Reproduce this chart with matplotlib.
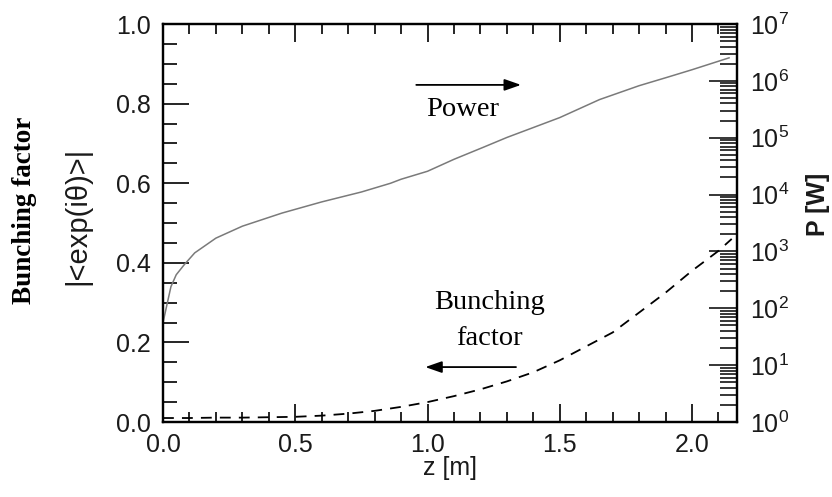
import numpy as np
import matplotlib
matplotlib.use("Agg")
import matplotlib.pyplot as plt
from matplotlib.ticker import MultipleLocator, LogLocator, FixedLocator, NullFormatter

plt.rcParams['mathtext.fontset'] = 'custom'
plt.rcParams['mathtext.rm'] = 'Liberation Sans'
plt.rcParams['mathtext.it'] = 'Liberation Sans:italic'

# ---- data ----
z_power = [0.00, 0.01, 0.02, 0.03, 0.05, 0.08, 0.12, 0.20, 0.30, 0.45, 0.60, 0.75,
           0.86, 0.90, 1.00, 1.10, 1.21, 1.30, 1.40, 1.50, 1.65, 1.80, 1.91, 2.00, 2.14]
power_W = [56, 91, 148, 240, 389, 582, 944, 1714, 2780, 4730, 7430, 11100,
           15800, 18600, 25700, 41700, 67600, 101000, 151000, 226000, 468000,
           822000, 1.17e6, 1.57e6, 2.54e6]

z_bunch = [0.0, 0.1, 0.2, 0.3, 0.4, 0.5, 0.6, 0.7, 0.8, 0.9, 1.0, 1.1, 1.2, 1.3,
           1.4, 1.5, 1.6, 1.7, 1.8, 1.9, 2.0, 2.1, 2.15]
bunching = [0.010, 0.010, 0.011, 0.011, 0.012, 0.013, 0.016, 0.021, 0.028, 0.038,
            0.050, 0.065, 0.082, 0.102, 0.125, 0.155, 0.190, 0.225, 0.275, 0.325,
            0.380, 0.430, 0.460]

x_ticks = [0.0, 0.5, 1.0, 1.5, 2.0]
y_ticks = [0.0, 0.2, 0.4, 0.6, 0.8, 1.0]
p_exps = [0, 1, 2, 3, 4, 5, 6, 7]

W, H = 832, 497
fig = plt.figure(figsize=(W / 100, H / 100), dpi=100)
ax = fig.add_axes([163 / W, 1 - 422 / H, (737 - 163) / W, (422 - 24) / H])
ax2 = ax.twinx()

sans = 'Liberation Sans'
serif = 'Liberation Serif'
tcol = '#1a1a1a'

# curves
ax2.plot(z_power, power_W, color='#7a7a7a', lw=1.1)
ax.plot(z_bunch, bunching, color='black', lw=1.3, dashes=(6, 4.5))

ax.set_xlim(0, 2.17)
ax.set_ylim(0, 1.0)
ax2.set_yscale('log')
ax2.set_ylim(1, 1e7)

ax.set_xticks(x_ticks)
ax.set_xticklabels([f"{v:.1f}" for v in x_ticks], fontfamily=sans, fontsize=18, color=tcol)
ax.xaxis.set_minor_locator(MultipleLocator(0.1))
ax.set_yticks(y_ticks)
ax.set_yticklabels([f"{v:.1f}" for v in y_ticks], fontfamily=sans, fontsize=18, color=tcol)
ax.yaxis.set_minor_locator(MultipleLocator(0.05))

ax.tick_params(axis='x', which='both', direction='in', top=True, bottom=True, width=1.2)
ax.tick_params(axis='x', which='major', length=13, pad=8)
ax.tick_params(axis='x', which='minor', length=7)
ax.tick_params(axis='y', which='both', direction='in', left=True, right=False, width=1.2)
ax.tick_params(axis='y', which='major', length=19, pad=9)
ax.tick_params(axis='y', which='minor', length=10)

ax2.yaxis.set_major_locator(FixedLocator([10.0 ** e for e in p_exps]))
ax2.set_yticklabels([f"$10^{{{e}}}$" for e in p_exps], fontsize=18, color=tcol)
ax2.yaxis.set_minor_locator(LogLocator(base=10, subs=np.arange(2, 10)))
ax2.yaxis.set_minor_formatter(NullFormatter())
ax2.tick_params(axis='y', which='both', direction='in', width=1.1)
ax2.tick_params(axis='y', which='major', length=20, pad=9)
ax2.tick_params(axis='y', which='minor', length=12)

for a in (ax, ax2):
    for s in a.spines.values():
        s.set_linewidth(1.6)

# axis labels
fig.text(450 / W, 1 - 468 / H, 'z [m]', fontfamily=sans, fontsize=18, ha='center', va='center', color=tcol)
fig.text(25 / W, 1 - 210 / H, 'Bunching factor', fontfamily=serif, fontweight='bold', fontsize=19.5,
         rotation=90, ha='center', va='center')
fig.text(77 / W, 1 - 216 / H, '|<exp(iθ)>|', fontfamily=sans, fontsize=21,
         rotation=90, ha='center', va='center', color=tcol)
fig.text(818 / W, 1 - 204 / H, 'P [W]', fontfamily=sans, fontweight='bold', fontsize=18,
         rotation=90, ha='center', va='center', color=tcol)

# annotations
ax.annotate('', xy=(1.364, 0.847), xytext=(0.947, 0.847), xycoords='data',
            arrowprops=dict(arrowstyle='-|>,head_length=1.0,head_width=0.35', color='black', lw=1.3))
ax.text(1.133, 0.784, 'Power', fontfamily=serif, fontsize=20.5, ha='center', va='center')
ax.text(1.235, 0.299, 'Bunching', fontfamily=serif, fontsize=20.5, ha='center', va='center')
ax.text(1.235, 0.211, 'factor', fontfamily=serif, fontsize=20.5, ha='center', va='center')
ax.annotate('', xy=(0.981, 0.138), xytext=(1.345, 0.138), xycoords='data',
            arrowprops=dict(arrowstyle='-|>,head_length=1.0,head_width=0.35', color='black', lw=1.3))

fig.savefig('out.png', dpi=100)
